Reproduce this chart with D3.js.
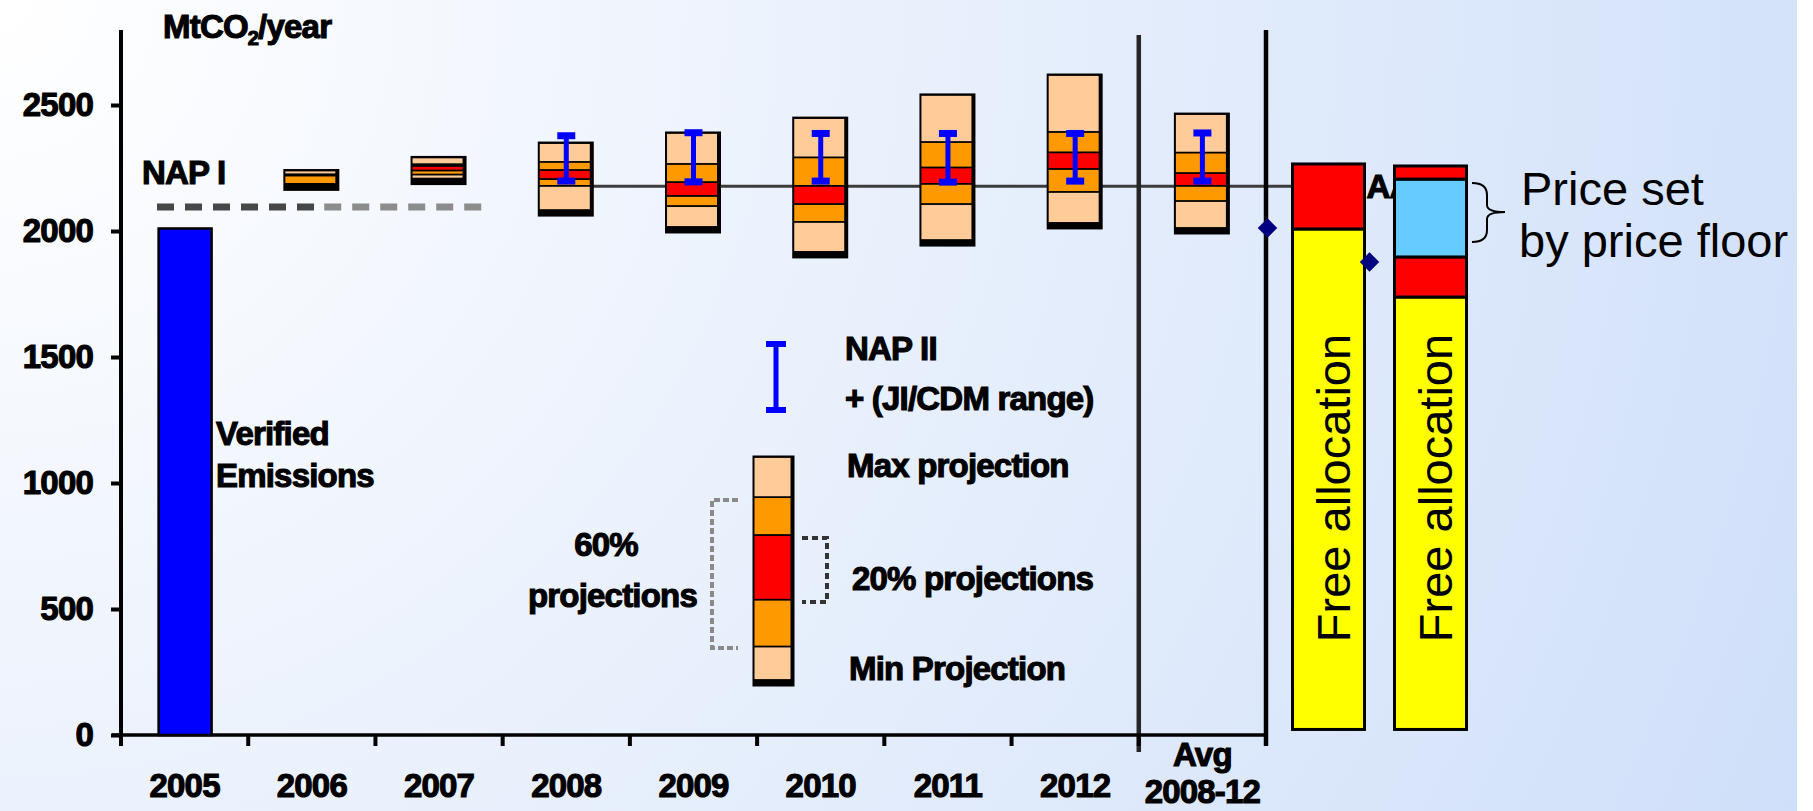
<!DOCTYPE html>
<html><head><meta charset="utf-8">
<script src="https://cdn.jsdelivr.net/npm/d3@7"></script>
<style>
html,body{margin:0;padding:0;overflow:hidden;background:#fff;}
svg{display:block;}
.b{font-family:'Liberation Sans',Arial,sans-serif;font-weight:700;font-size:33px;fill:#000;stroke:#000;stroke-width:1.1px;letter-spacing:-0.8px;}
.n{font-family:'Liberation Sans',Arial,sans-serif;font-weight:400;font-size:47px;fill:#000;}
</style>
</head><body>
<svg id="c" width="1813" height="811"></svg>
<script>
// ---------------- data ----------------
const categories = ["2005","2006","2007","2008","2009","2010","2011","2012","Avg 2008-12"];
const verifiedCats = ["2005"];
const verifiedValues = [2010];
const napIValue = 2095;
const projYears = ["2006","2007","2008","2009","2010","2011","2012","Avg 2008-12"];
const projMin  = [2185, 2208, 2083, 2016, 1917, 1964, 2032, 2012];
const proj60Lo = [2187, 2224, 2179, 2099, 2036, 2107, 2155, 2119];
const proj20Lo = [2220, 2240, 2206, 2139, 2107, 2187, 2246, 2179];
const proj20Hi = [2222, 2258, 2242, 2194, 2179, 2252, 2312, 2230];
const proj60Hi = [2225, 2265, 2274, 2266, 2292, 2353, 2393, 2311];
const projMax  = [2240, 2292, 2349, 2389, 2448, 2540, 2619, 2464];
const napIIYears = ["2008","2009","2010","2011","2012","Avg 2008-12"];
const napIILow  = [2198, 2195, 2198, 2194, 2198, 2198];
const napIIHigh = [2378, 2390, 2387, 2387, 2387, 2389];
const capLineValue = 2178;
const yTicks = [0, 500, 1000, 1500, 2000, 2500];
const rightBars = ["A", "B"];
const barABounds = [22, 2008, 2266];
const barAColors = ["#ffff00", "#ff0000"];
const barBBounds = [22, 1738, 1897, 2206, 2258];
const barBColors = ["#ffff00", "#ff0000", "#66ccff", "#ff0000"];
const diamondValues = [2012, 1877];
const legendSample = [0, 15, 36, 65, 82, 100];

const PEACH = "#ffcc99", ORANGE = "#ff9900", RED = "#ff0000", BLUE = "#0000ff";

// ---------------- setup ----------------
const W = 1813, H = 811;
const svg = d3.select("#c");
const defs = svg.append("defs");
const rg = defs.append("radialGradient").attr("id", "bg")
  .attr("gradientUnits", "userSpaceOnUse").attr("cx", 0).attr("cy", 0).attr("fx", 0).attr("fy", 0).attr("r", 1990);
rg.append("stop").attr("offset", 0).attr("stop-color", "#ffffff");
rg.append("stop").attr("offset", 1).attr("stop-color", "#cfdff9");
svg.append("rect").attr("width", 1797).attr("height", H).attr("fill", "url(#bg)");

const y = d3.scaleLinear().domain([0, 2500]).range([735, 105]);
const x = d3.scaleBand().domain(categories).range([121, 1266]).paddingInner(0).paddingOuter(0);
const cx = d => x(d) + x.bandwidth() / 2;
const boxW = 55;
const xr = d3.scaleBand().domain(rightBars).range([1292.5, 1466.5]).paddingInner(30 / 102).paddingOuter(0);

// ---------------- NAP I dashed line ----------------
const napG = svg.append("g");
napG.append("line").attr("x1", x("2005") + 36).attr("x2", x("2006") + 66)
  .attr("y1", y(napIValue)).attr("y2", y(napIValue))
  .attr("stroke", "#474747").attr("stroke-width", 7).attr("stroke-dasharray", "17,11");
napG.append("line").attr("x1", x("2006") + 76).attr("x2", x("2007") + 106)
  .attr("y1", y(napIValue)).attr("y2", y(napIValue))
  .attr("stroke", "#8c8c8c").attr("stroke-width", 7).attr("stroke-dasharray", "17,11");

// ---------------- cap line ----------------
svg.append("line").attr("x1", cx("2008") - boxW / 2).attr("x2", xr("A"))
  .attr("y1", y(capLineValue)).attr("y2", y(capLineValue))
  .attr("stroke", "#3c3c3c").attr("stroke-width", 3);

// ---------------- separators ----------------
svg.append("line").attr("x1", x("Avg 2008-12")).attr("x2", x("Avg 2008-12"))
  .attr("y1", 35).attr("y2", 752).attr("stroke", "#262626").attr("stroke-width", 4.5);
svg.append("line").attr("x1", x.range()[1]).attr("x2", x.range()[1])
  .attr("y1", 30).attr("y2", 746).attr("stroke", "#000").attr("stroke-width", 4.5);

// ---------------- axes ----------------
svg.append("line").attr("x1", 121).attr("x2", 121).attr("y1", 30).attr("y2", 746)
  .attr("stroke", "#000").attr("stroke-width", 4);
const gy = svg.append("g").attr("transform", "translate(121,0)")
  .call(d3.axisLeft(y).tickValues(yTicks).tickSize(10).tickPadding(18).tickFormat(d3.format("d")));
gy.select(".domain").remove();
gy.selectAll(".tick line").attr("stroke", "#000").attr("stroke-width", 4);
gy.selectAll(".tick text").attr("class", "b").attr("font-size", null).attr("font-family", null);

svg.append("line").attr("x1", 112).attr("x2", x.range()[1] + 2).attr("y1", y(0)).attr("y2", y(0))
  .attr("stroke", "#000").attr("stroke-width", 3.5);
const bounds = categories.map(d => x(d)).concat([x.range()[1]]);
svg.append("g").selectAll("line").data(bounds.slice(1)).join("line")
  .attr("x1", d => d).attr("x2", d => d).attr("y1", y(0)).attr("y2", y(0) + 11)
  .attr("stroke", "#000").attr("stroke-width", 4);
const gx = svg.append("g").attr("transform", `translate(0,${y(0)})`)
  .call(d3.axisBottom(x).tickSize(0).tickPadding(0));
gx.select(".domain").remove();
gx.selectAll(".tick text").each(function (d) {
  const t = d3.select(this);
  t.attr("class", "b").attr("font-size", null).attr("font-family", null).attr("dy", null).attr("y", null).text(null);
  const parts = d.split(" ");
  if (parts.length === 1) {
    t.attr("y", 62).text(d);
  } else {
    t.append("tspan").attr("x", 0).attr("y", 31).text(parts[0]);
    t.append("tspan").attr("x", 0).attr("y", 68).text(parts[1]);
  }
});

// ---------------- verified emissions bar ----------------
svg.append("g").selectAll("rect").data(verifiedCats.map((c, i) => ({ c, v: verifiedValues[i] }))).join("rect")
  .attr("x", d => cx(d.c) - 26).attr("width", 53)
  .attr("y", d => y(d.v)).attr("height", d => y(0) - y(d.v))
  .attr("fill", BLUE).attr("stroke", "#000").attr("stroke-width", 2.5);

// ---------------- projection boxes ----------------
function boxData(px, w, ys) {
  const fills = [PEACH, ORANGE, RED, ORANGE, PEACH];
  const segs = [];
  for (let i = 0; i < 5; i++) segs.push({ top: ys[i + 1], bot: ys[i], fill: fills[i] });
  return { cx: px, w, top: ys[5], bot: ys[0], segs };
}
function drawBoxes(sel, data) {
  const g = sel.selectAll("g.box").data(data).join("g").attr("class", "box");
  g.append("rect")
    .attr("x", d => d.cx - d.w / 2 - 1).attr("y", d => d.top - 1.5)
    .attr("width", d => d.w + 1).attr("height", d => d.bot - d.top + 8)
    .attr("fill", "#000");
  g.selectAll("rect.seg").data(d => d.segs.map(s => ({ ...s, cx: d.cx, w: d.w })).filter(s => s.bot - s.top > 1.6))
    .join("rect").attr("class", "seg")
    .attr("x", s => s.cx - s.w / 2 + 1).attr("width", s => s.w - 5)
    .attr("y", s => s.top + 0.9).attr("height", s => s.bot - s.top - 1.8)
    .attr("fill", s => s.fill);
}
const projData = projYears.map((c, i) => boxData(cx(c), boxW,
  [projMin[i], proj60Lo[i], proj20Lo[i], proj20Hi[i], proj60Hi[i], projMax[i]].map(y)));
drawBoxes(svg.append("g"), projData);

// ---------------- NAP II I-beams ----------------
function ibeam(sel, data, capW, capH, stemW) {
  const g = sel.selectAll("g.ib").data(data).join("g").attr("class", "ib");
  g.append("rect").attr("x", d => d.x - stemW / 2).attr("width", stemW)
    .attr("y", d => d.hi).attr("height", d => d.lo - d.hi).attr("fill", BLUE);
  g.append("rect").attr("x", d => d.x - capW / 2).attr("width", capW)
    .attr("y", d => d.hi - capH / 2).attr("height", capH).attr("fill", BLUE);
  g.append("rect").attr("x", d => d.x - capW / 2).attr("width", capW)
    .attr("y", d => d.lo - capH / 2).attr("height", capH).attr("fill", BLUE);
}
ibeam(svg.append("g"), napIIYears.map((c, i) => ({ x: cx(c), hi: y(napIIHigh[i]), lo: y(napIILow[i]) })), 18, 7, 5);

// ---------------- right-hand bars ----------------
svg.append("text").attr("class", "b").attr("x", xr("A") + xr.bandwidth() + 2).attr("y", 198).text("AAU");
function stackSegs(bounds, colors) {
  return colors.map((c, i) => ({ from: bounds[i], to: bounds[i + 1], color: c }));
}
const rightData = [
  { bar: "A", segs: stackSegs(barABounds, barAColors) },
  { bar: "B", segs: stackSegs(barBBounds, barBColors) }
];
const rgG = svg.append("g").selectAll("g").data(rightData).join("g");
rgG.selectAll("rect").data(d => d.segs.map(s => ({ ...s, bar: d.bar }))).join("rect")
  .attr("x", s => xr(s.bar)).attr("width", xr.bandwidth())
  .attr("y", s => y(s.to)).attr("height", s => y(s.from) - y(s.to))
  .attr("fill", s => s.color).attr("stroke", "#000").attr("stroke-width", 3);
rgG.append("text").attr("class", "n")
  .attr("transform", d => `translate(${xr(d.bar) + xr.bandwidth() / 2 + 21},488) rotate(-90)`)
  .attr("text-anchor", "middle").text("Free allocation");

svg.append("g").selectAll("path").data(rightBars.map((b, i) => ({ b, v: diamondValues[i] }))).join("path")
  .attr("d", d3.symbol(d3.symbolSquare, 190))
  .attr("transform", d => `translate(${xr(d.b) - 25},${y(d.v)}) rotate(45)`)
  .attr("fill", "#000080");

// brace + label
svg.append("path")
  .attr("d", "M1472,183 Q1487,183 1487,195 L1487,205 Q1487,212 1505,212 Q1487,212 1487,219 L1487,230 Q1487,242 1472,242")
  .attr("fill", "none").attr("stroke", "#000").attr("stroke-width", 2);
svg.append("text").attr("class", "n").attr("x", 1521).attr("y", 205).text("Price set");
svg.append("text").attr("class", "n").attr("x", 1519).attr("y", 257).text("by price floor");

// ---------------- annotations ----------------
const title = svg.append("text").attr("class", "b").attr("x", 163).attr("y", 38);
title.append("tspan").text("MtCO");
title.append("tspan").attr("font-size", "20px").attr("dy", 7).text("2");
title.append("tspan").attr("dy", -7).text("/year");
svg.append("text").attr("class", "b").attr("x", 142).attr("y", 184).text("NAP I");
svg.append("text").attr("class", "b").attr("x", 216).attr("y", 445).text("Verified");
svg.append("text").attr("class", "b").attr("x", 216).attr("y", 487).text("Emissions");

// ---------------- legend ----------------
const lg = svg.append("g");
ibeam(lg, [{ x: 776, hi: 344, lo: 410 }], 20, 6, 5);
lg.append("text").attr("class", "b").attr("x", 845).attr("y", 360).text("NAP II");
lg.append("text").attr("class", "b").attr("x", 845).attr("y", 410).text("+ (JI/CDM range)");
const ly = d3.scaleLinear().domain([0, 100]).range([680, 457]);
drawBoxes(lg.append("g"), [boxData(774, 41, legendSample.map(ly))]);
lg.append("text").attr("class", "b").attr("x", 847).attr("y", 477).text("Max projection");
lg.append("text").attr("class", "b").attr("x", 852).attr("y", 590).text("20% projections");
lg.append("text").attr("class", "b").attr("x", 849).attr("y", 680).text("Min Projection");
lg.append("text").attr("class", "b").attr("x", 606).attr("y", 556).attr("text-anchor", "middle").text("60%");
lg.append("text").attr("class", "b").attr("x", 697).attr("y", 607).attr("text-anchor", "end").text("projections");
lg.append("path").attr("d", "M738,500 H712 V648 H738").attr("fill", "none")
  .attr("stroke", "#8a8a8a").attr("stroke-width", 4).attr("stroke-dasharray", "6,3");
lg.append("path").attr("d", "M802,538 H827 V602 H802").attr("fill", "none")
  .attr("stroke", "#333").attr("stroke-width", 4).attr("stroke-dasharray", "6,4");
</script>
</body></html>
